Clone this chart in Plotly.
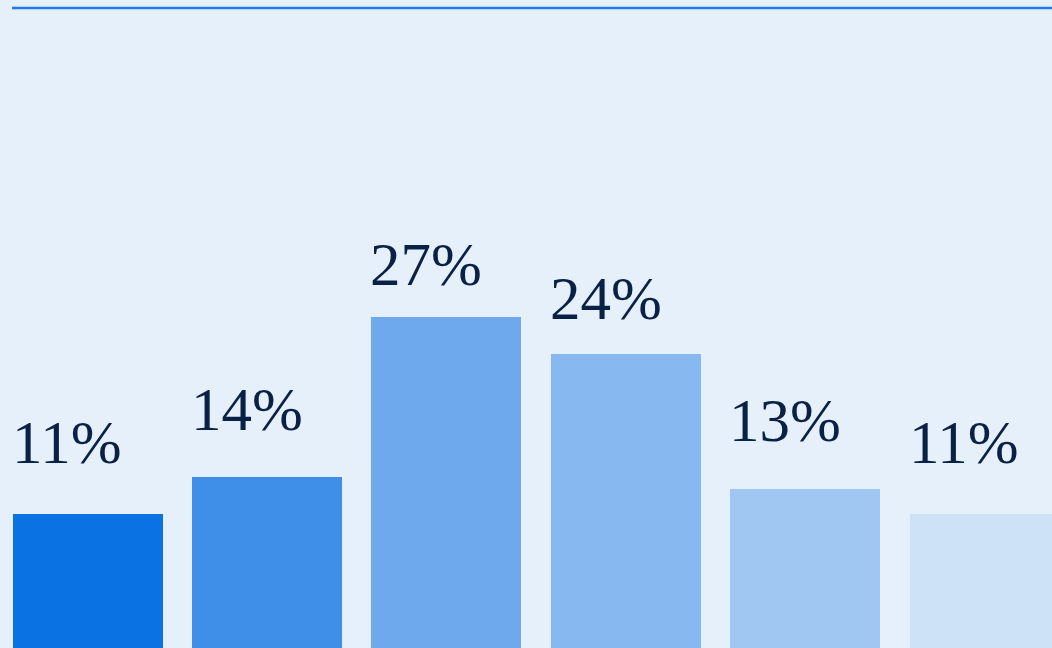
import plotly.graph_objects as go

# Share of respondents per group (percent)
categories = ["A", "B", "C", "D", "E", "F"]
values = [11, 14, 27, 24, 13, 11]
labels = ["11%", "14%", "27%", "24%", "13%", "11%"]
bar_colors = ["#0B72E3", "#3F8EE8", "#6EA9EE", "#88B8F0", "#A0C6F2", "#CDE1F7"]

bg = "#E6F0FA"
ink = "#0A2146"
bar_width = 0.836

x = list(range(len(categories)))

fig = go.Figure(
    go.Bar(
        x=x,
        y=values,
        width=bar_width,
        marker=dict(color=bar_colors, line=dict(width=0)),
        hoverinfo="skip",
    )
)

# value labels ride on their own, slightly compressed scale (yaxis2)
for xi, v, t in zip(x, values, labels):
    fig.add_annotation(
        x=xi - bar_width / 2,
        y=v,
        xref="x",
        yref="y2",
        text=t,
        showarrow=False,
        xanchor="left",
        yanchor="bottom",
        xshift=-3,
        font=dict(family="Liberation Serif", size=61, color=ink),
    )

# thin accent rule across the top
fig.add_shape(
    type="line",
    xref="paper",
    yref="paper",
    x0=12 / 1052,
    x1=1,
    y0=1 - 8 / 648,
    y1=1 - 8 / 648,
    line=dict(color="#1C7BEE", width=2.5),
)

fig.update_layout(
    width=1052,
    height=648,
    margin=dict(l=0, r=0, t=0, b=0),
    paper_bgcolor=bg,
    plot_bgcolor=bg,
    showlegend=False,
    bargap=0,
    xaxis=dict(range=[-0.488, 5.376], visible=False, fixedrange=True),
    yaxis=dict(range=[0.114, 52.75], visible=False, fixedrange=True),
    yaxis2=dict(range=[-4.33, 54.05], overlaying="y", visible=False, fixedrange=True),
)

fig.write_html("out.html")
